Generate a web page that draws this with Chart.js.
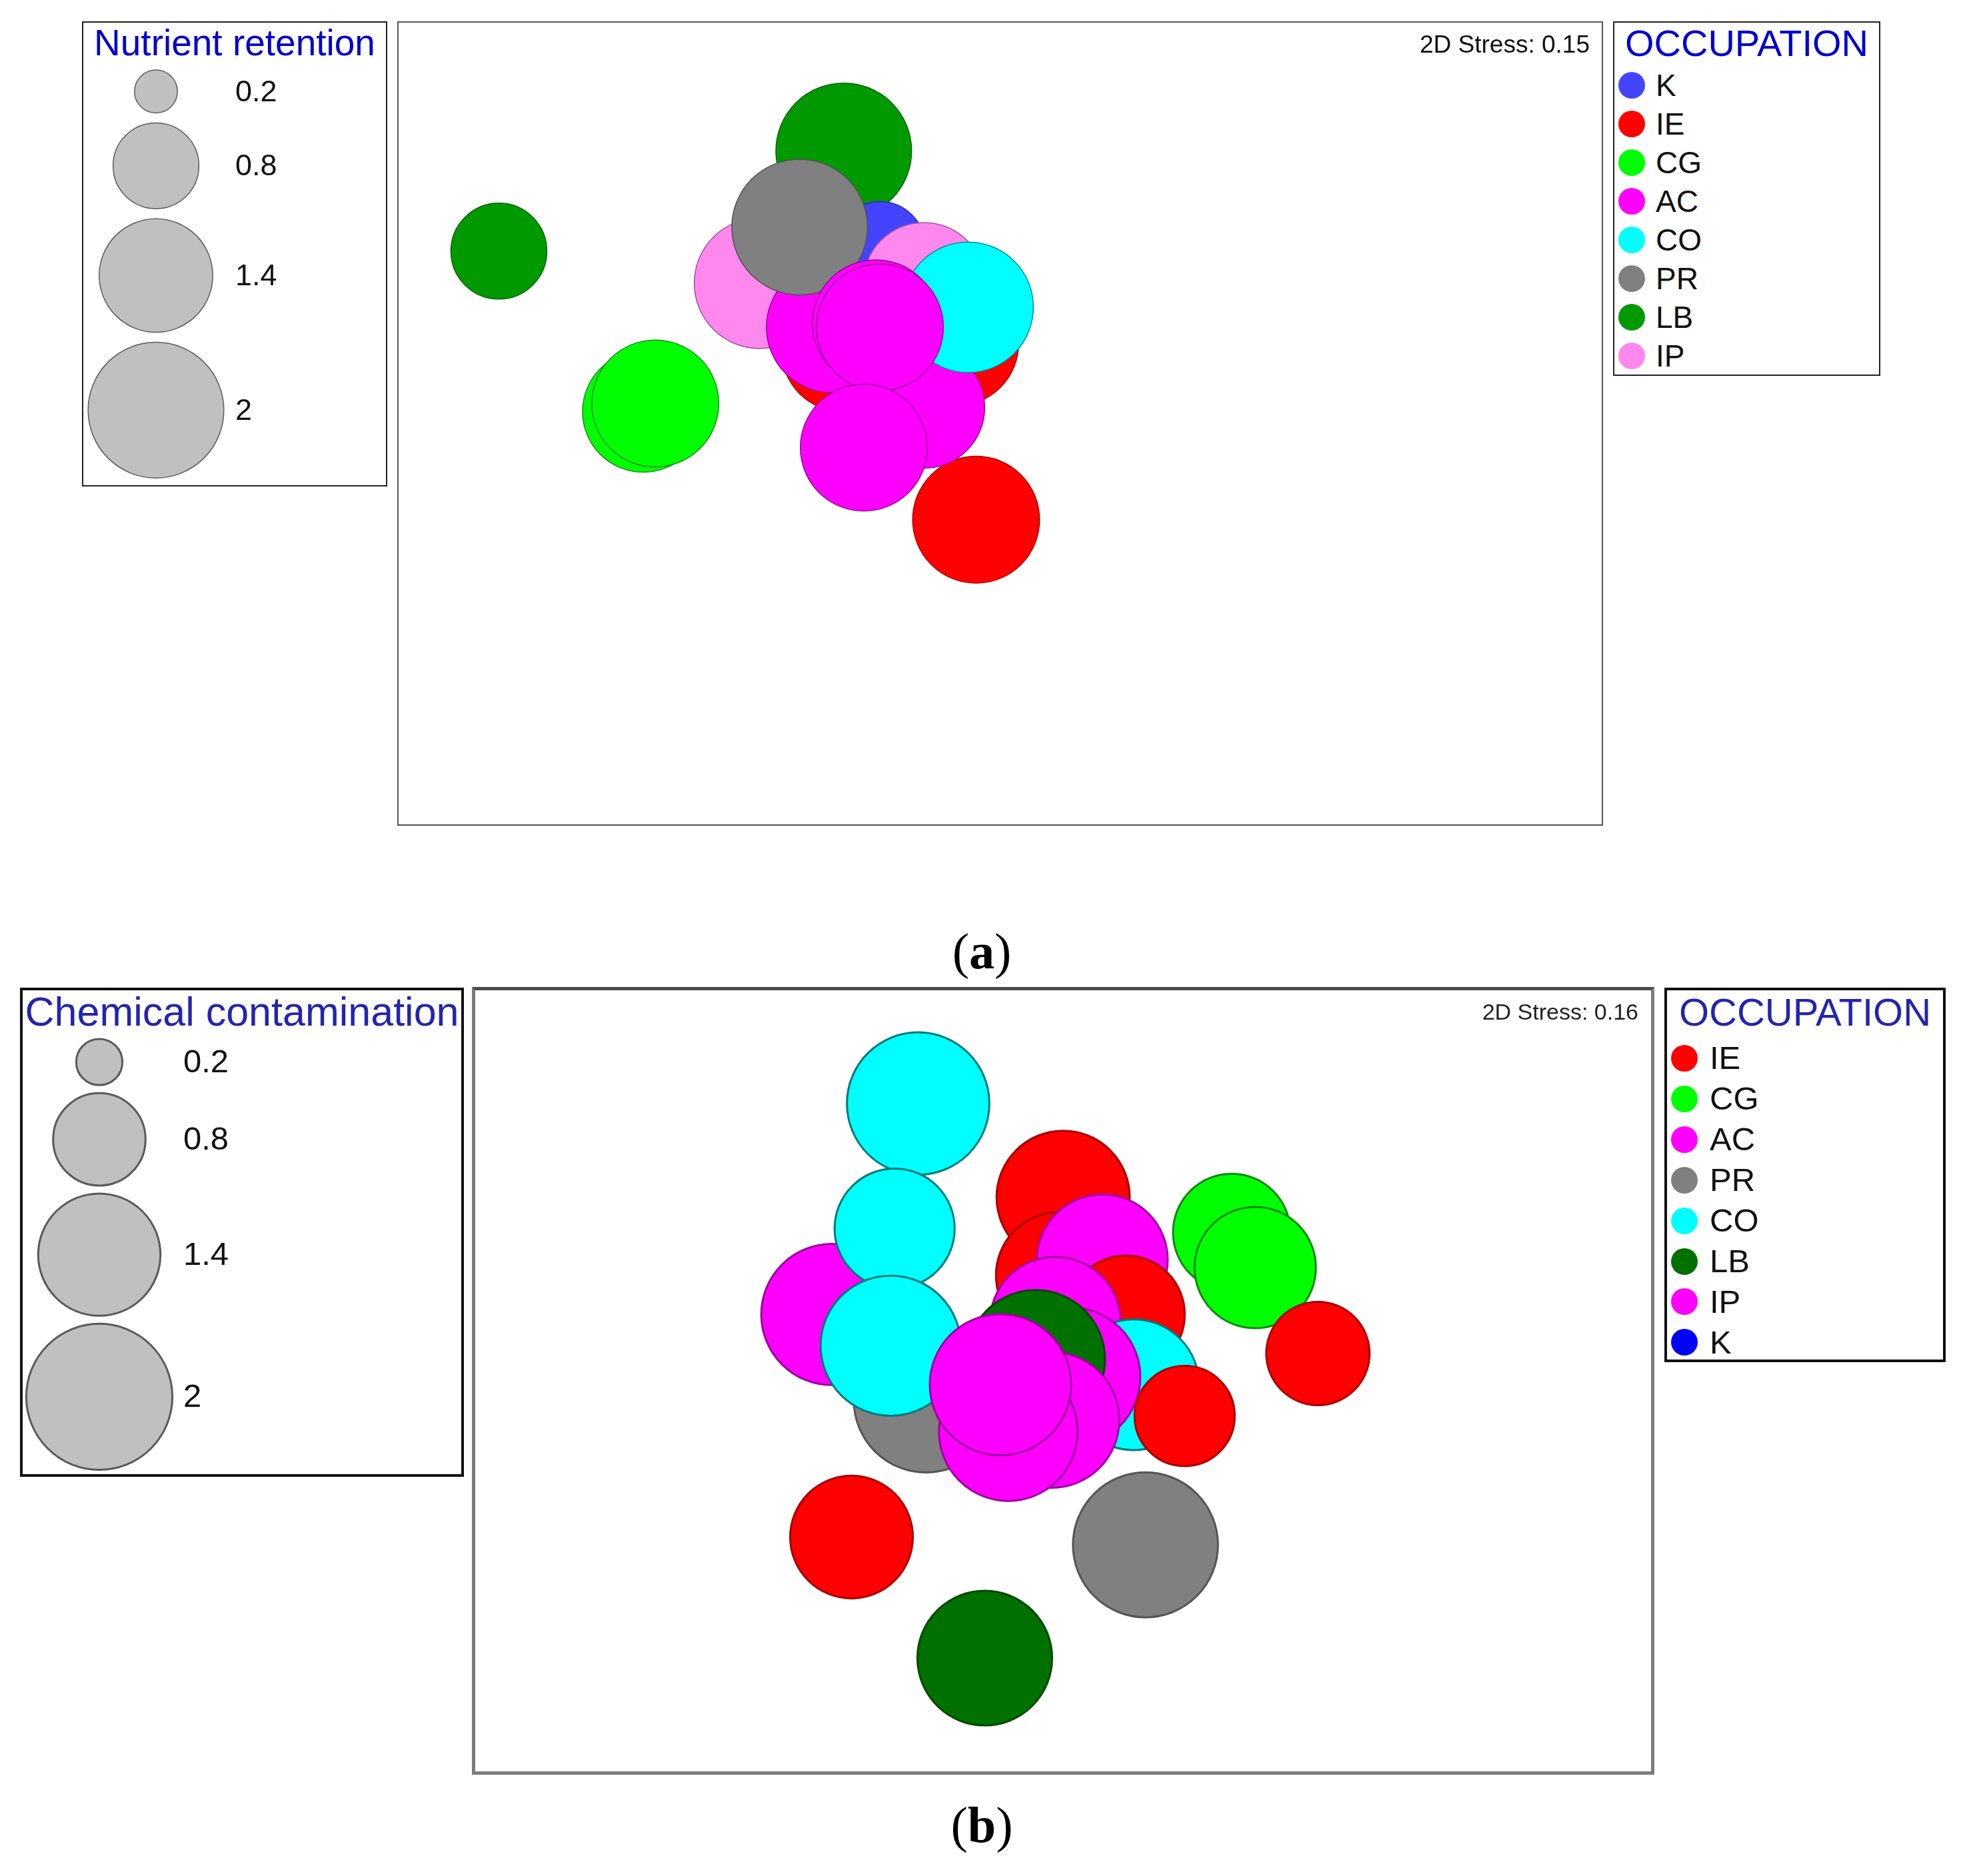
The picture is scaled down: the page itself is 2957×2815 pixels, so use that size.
<!DOCTYPE html>
<html>
<head>
<meta charset="utf-8">
<script src="https://cdn.jsdelivr.net/npm/chart.js@4.4.0/dist/chart.umd.min.js"></script>
<style>
  body { margin: 0; width: 2957px; height: 2815px; background: #fff; position: relative; overflow: hidden;
         font-family: "Liberation Sans", Arial, sans-serif; }
  .box { position: absolute; box-sizing: border-box; background: #fff; }
  .box canvas { position: absolute; left: 0; top: 0; }
  .ttl { position: absolute; left: 0; right: 0; text-align: center; line-height: 1; white-space: nowrap; }
  .stress { position: absolute; line-height: 1; color: #111; white-space: nowrap; }
  .row { position: absolute; display: flex; align-items: center; line-height: 1; color: #111; }
  .dot { position: absolute; border-radius: 50%; }
  .panel { position: absolute; font-family: "Liberation Serif", "Times New Roman", serif; font-size: 76px; line-height: 76px; color: #000; }
</style>
</head>
<body>

<!-- panel (a) -->
<div class="box" style="left:123px;top:32px;width:458px;height:698px;border:2px solid #222;">
  <canvas id="sizeA" width="454" height="694"></canvas>
  <div class="ttl" style="top:3px;font-size:55px;color:#0000d0;">Nutrient retention</div>
</div>
<div class="box" style="left:596px;top:32px;width:1809px;height:1207px;border:2px solid #555;">
  <canvas id="plotA" width="1805" height="1203"></canvas>
  <div class="stress" style="right:18px;top:14px;font-size:37px;">2D Stress: 0.15</div>
</div>
<div class="box" id="occA" style="left:2420px;top:32px;width:401px;height:532px;border:2px solid #222;">
  <div class="ttl" style="top:3px;font-size:56px;color:#0000d0;">OCCUPATION</div>
</div>
<div class="panel" style="left:1473px;top:1389px;transform:translateX(-50%);">(<b>a</b>)</div>

<!-- panel (b) -->
<div class="box" style="left:30px;top:1482px;width:666px;height:734px;border:4px solid #111;">
  <canvas id="sizeB" width="658" height="726"></canvas>
  <div class="ttl" style="top:2px;font-size:61px;color:#2424b0;">Chemical contamination</div>
</div>
<div class="box" style="left:708px;top:1481px;width:1774px;height:1182px;border:5px solid #7c7c7c;border-top-color:#4c4c4c;">
  <canvas id="plotB" width="1764" height="1172"></canvas>
  <div class="stress" style="right:19px;top:15px;font-size:34px;color:#222;">2D Stress: 0.16</div>
</div>
<div class="box" id="occB" style="left:2497px;top:1482px;width:422px;height:562px;border:4px solid #111;">
  <div class="ttl" style="top:4px;font-size:58px;color:#2424b0;">OCCUPATION</div>
</div>
<div class="panel" style="left:1473px;top:2700px;transform:translateX(-50%);">(<b>b</b>)</div>

<script>
// ---- data: panel (a), nutrient retention ----
const occupationA = ['K', 'IE', 'CG', 'AC', 'CO', 'PR', 'LB', 'IP'];
const groupA = ['LB', 'CG', 'CG', 'LB', 'IE', 'IE', 'IE', 'IE', 'AC', 'IP', 'K', 'IP', 'CO', 'AC', 'PR', 'AC', 'AC', 'AC'];
const xA = [-1.25, -0.89, -0.86, -0.39, -0.06, -0.39, -0.21, -0.11, -0.19, -0.60, -0.30, -0.19, -0.08, -0.42, -0.50, -0.31, -0.30, -0.34];
const yA = [0.43, 0.03, 0.05, 0.68, -0.24, 0.185, 0.20, 0.20, 0.04, 0.35, 0.44, 0.35, 0.29, 0.24, 0.49, 0.25, 0.24, -0.06];
const nutrientA = [1.0, 1.6, 1.75, 2.0, 1.75, 1.7, 1.7, 1.7, 1.6, 1.85, 0.9, 1.6, 1.85, 1.85, 2.0, 1.75, 1.75, 1.75];
const sizeKeysA = [0.2, 0.8, 1.4, 2];
const sizeLabelsA = ['0.2', '0.8', '1.4', '2'];

// ---- data: panel (b), chemical contamination ----
const occupationB = ['IE', 'CG', 'AC', 'PR', 'CO', 'LB', 'IP', 'K'];
const groupB = ['CO', 'PR', 'AC', 'CO', 'CO', 'IE', 'IE', 'AC', 'IE', 'IP', 'CO', 'AC', 'LB', 'IP', 'AC', 'AC', 'IE', 'CG', 'CG', 'IE', 'IE', 'PR', 'LB'];
const xB = [-0.37, -0.35, -0.59, -0.43, -0.44, 0.00, -0.01, 0.10, 0.16, -0.02, 0.18, 0.02, -0.07, -0.03, -0.14, -0.16, 0.31, 0.43, 0.49, 0.65, -0.54, 0.21, -0.20];
const yB = [0.71, -0.05, 0.17, 0.39, 0.09, 0.47, 0.27, 0.31, 0.17, 0.15, -0.01, 0.01, 0.055, -0.10, -0.13, -0.01, -0.09, 0.38, 0.29, 0.07, -0.40, -0.42, -0.71];
const chemicalB = [1.9, 1.95, 1.87, 1.35, 1.84, 1.66, 1.5, 1.6, 1.3, 1.6, 1.6, 1.8, 1.8, 1.73, 1.8, 1.87, 0.94, 1.29, 1.38, 1.0, 1.41, 1.97, 1.7];
const sizeKeysB = [0.2, 0.8, 1.4, 2];
const sizeLabelsB = ['0.2', '0.8', '1.4', '2'];

// ---- styles ----
const fillA = { K: '#4444ff', IE: '#ff0000', CG: '#00ff00', AC: '#ff00ff', CO: '#00ffff', PR: '#808080', LB: '#009900', IP: '#ff88ee' };
const lineA = { K: '#2a2aa0', IE: '#b00000', CG: '#1c8c1c', AC: '#990099', CO: '#008f8f', PR: '#505050', LB: '#006600', IP: '#a050a0' };
const fillB = { IE: '#ff0000', CG: '#00ff00', AC: '#ff00ff', PR: '#808080', CO: '#00ffff', LB: '#007000', IP: '#ff00ff', K: '#0000ff' };
const lineB = { IE: '#a80000', CG: '#108a10', AC: '#a000a0', PR: '#555555', CO: '#007a7a', LB: '#004a00', IP: '#a000a0', K: '#000099' };

const quiet = {
    responsive: false,
    animation: false,
    events: [],
    layout: { autoPadding: false, padding: 0 },
    plugins: { legend: { display: false }, tooltip: { enabled: false } }
};

// bubble area proportional to the value
function plotChart(id, xs, ys, vals, groups, k, fill, line, bw) {
    const pts = xs.map((x, i) => ({ x: x, y: ys[i], r: k * Math.sqrt(vals[i]) }));
    new Chart(document.getElementById(id), {
        type: 'bubble',
        data: { datasets: [{
            data: pts,
            backgroundColor: groups.map(g => fill[g]),
            borderColor: groups.map(g => line[g]),
            borderWidth: bw,
            clip: false
        }] },
        options: Object.assign({}, quiet, {
            scales: {
                x: { display: false, min: -1.5, max: 1.5 },
                y: { display: false, min: -1, max: 1 }
            }
        })
    });
}

// size key: circles stacked down the box, label drawn beside each one
function sizeLegend(id, vals, labels, k, cx, top0, gap, labelX, font, bw) {
    const cv = document.getElementById(id);
    let y = top0;
    const pts = vals.map(v => {
        const r = k * Math.sqrt(v);
        const p = { x: cx, y: y + r, r: r };
        y += 2 * r + gap;
        return p;
    });
    new Chart(cv, {
        type: 'bubble',
        data: { datasets: [{ data: pts, backgroundColor: '#c0c0c0', borderColor: '#5a5a5a', borderWidth: bw, clip: false }] },
        options: Object.assign({}, quiet, {
            scales: {
                x: { display: false, min: 0, max: cv.width },
                y: { display: false, min: 0, max: cv.height, reverse: true }
            }
        }),
        plugins: [{
            id: 'keyLabels',
            afterDatasetsDraw(chart) {
                const ctx = chart.ctx;
                ctx.save();
                ctx.font = font;
                ctx.fillStyle = '#111';
                ctx.textBaseline = 'middle';
                chart.getDatasetMeta(0).data.forEach((el, i) => ctx.fillText(labels[i], labelX, el.y + 2));
                ctx.restore();
            }
        }]
    });
}

function occLegend(id, names, fill, first, step, dotX, dotR, textX, size) {
    const box = document.getElementById(id);
    names.forEach((n, i) => {
        const cy = first + i * step;
        const dot = document.createElement('div');
        dot.className = 'dot';
        dot.style.cssText = `left:${dotX - dotR}px;top:${cy - dotR}px;width:${2 * dotR}px;height:${2 * dotR}px;background:${fill[n]};`;
        box.appendChild(dot);
        const row = document.createElement('div');
        row.className = 'row';
        row.style.cssText = `left:${textX}px;top:${cy - step / 2}px;height:${step}px;font-size:${size}px;`;
        row.textContent = n;
        box.appendChild(row);
    });
}

plotChart('plotA', xA, yA, nutrientA, groupA, 72, fillA, lineA, 1.5);
sizeLegend('sizeA', sizeKeysA, sizeLabelsA, 72, 109, 71, 15, 228, '45px "Liberation Sans", Arial, sans-serif', 1.5);
occLegend('occA', occupationA, fillA, 94, 58, 26, 20, 62, 46);

plotChart('plotB', xB, yB, chemicalB, groupB, 77.5, fillB, lineB, 3);
sizeLegend('sizeB', sizeKeysB, sizeLabelsB, 77.5, 115, 73, 12, 241, '49px "Liberation Sans", Arial, sans-serif', 3);
occLegend('occB', occupationB, fillB, 102, 60.9, 26, 20, 64, 49);
</script>
</body>
</html>
